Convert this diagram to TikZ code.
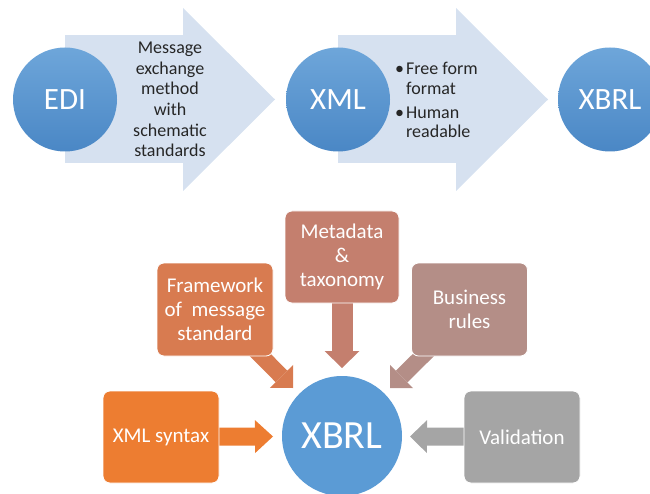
\documentclass[tikz,border=0pt]{standalone}
\usepackage{fontspec}
\setmainfont{Carlito}
\usetikzlibrary{arrows.meta,backgrounds}

\definecolor{stageLight}{HTML}{6EA6DA}
\definecolor{stageDark}{HTML}{4A87C5}
\definecolor{hubBlue}{HTML}{5B9BD5}
\definecolor{chevron}{HTML}{D6E1F0}
\definecolor{cXml}{HTML}{ED7D31}
\definecolor{cFw}{HTML}{D87B50}
\definecolor{cMeta}{HTML}{C47F6E}
\definecolor{cBiz}{HTML}{B48E87}
\definecolor{cVal}{HTML}{A5A5A5}
\definecolor{txtdark}{HTML}{262626}

\begin{document}
\begin{tikzpicture}[x=1pt,y=-1pt,
  stage/.style={circle, inner sep=0pt, minimum size=104pt,
    top color=stageLight, bottom color=stageDark, text=white,
    font=\fontsize{31}{31}\selectfont},
  note/.style={text=txtdark, inner sep=0pt,
    font=\fontsize{18}{20.6}\selectfont},
  box/.style={rounded corners=7pt, draw=white, line width=0.8pt,
    inner sep=0pt, minimum width=116pt, minimum height=93pt,
    text=white, align=center, font=\fontsize{21}{24}\selectfont},
  flow/.style n args={3}{line width=#1,
    -{Triangle[length=#2, width=#3, line width=0pt]}}
]
\useasboundingbox (0,0) rectangle (650,494);
\clip (0,0) rectangle (650,494);

% ---- evolution: EDI -> XML -> XBRL ----
\node[stage] (edi)  at (65,99.5)  {EDI};
\node[stage] (xml)  at (338,99.5) {XML};
\node[stage] (xbrlTop) at (610,99.5) {XBRL};
\coordinate (tipA) at (275,99.5);
\coordinate (tipB) at (548,99.5);

\begin{pgfonlayer}{background}
  \draw[flow={128pt}{92pt}{183pt}, chevron] (edi.center) -- (tipA);
  \draw[flow={128pt}{92pt}{183pt}, chevron] (xml.center) -- (tipB);
\end{pgfonlayer}

\node[note, align=center] (ediNote) at (170,99.5)
  {Message\\exchange\\method\\with\\schematic\\standards};
\node[note, align=left, anchor=west,
  font=\fontsize{18}{19.5}\selectfont] (xmlNote) at (395,100)
  {\textbullet\hspace{2pt}Free form\\
   \hphantom{\textbullet\hspace{2pt}}format\\[4.5pt]
   \textbullet\hspace{2pt}Human\\
   \hphantom{\textbullet\hspace{2pt}}readable};

% ---- building blocks of XBRL ----
\node[circle, inner sep=0pt, minimum size=120pt, fill=hubBlue,
  text=white, font=\fontsize{40}{40}\selectfont] (hub) at (342,436) {XBRL};

\node[box, fill=cFw]  (fw)   at (215,309.5) {Framework\\of~~message\\standard};
\node[box, fill=cMeta, minimum width=114pt, minimum height=92pt]
                      (meta) at (342,257)   {Metadata\\\&\\taxonomy};
\node[box, fill=cBiz] (biz)  at (469.5,309.5) {Business\\rules};
\node[box, fill=cXml, minimum height=92pt] (xsyn) at (161,437) {XML syntax};
\node[box, fill=cVal, minimum height=92pt] (val)  at (522,437) {Validation};

\coordinate (tFw)   at (293,388);
\coordinate (tMeta) at (342,368);
\coordinate (tBiz)  at (390,388);
\coordinate (tXml)  at (273,436.5);
\coordinate (tVal)  at (410,436.5);

\begin{pgfonlayer}{background}
  \draw[flow={16.4pt}{16.3pt}{32.5pt}, cFw]  (fw.center)   -- (tFw);
  \draw[flow={21pt}{17pt}{35pt},        cMeta] (meta.center) -- (tMeta);
  \draw[flow={16.4pt}{16.3pt}{32.5pt}, cBiz] (biz.center)  -- (tBiz);
  \draw[flow={18pt}{18pt}{33pt},        cXml] (xsyn.center) -- (tXml);
  \draw[flow={18pt}{17pt}{33pt},        cVal] (val.center)  -- (tVal);
\end{pgfonlayer}
\end{tikzpicture}
\end{document}
